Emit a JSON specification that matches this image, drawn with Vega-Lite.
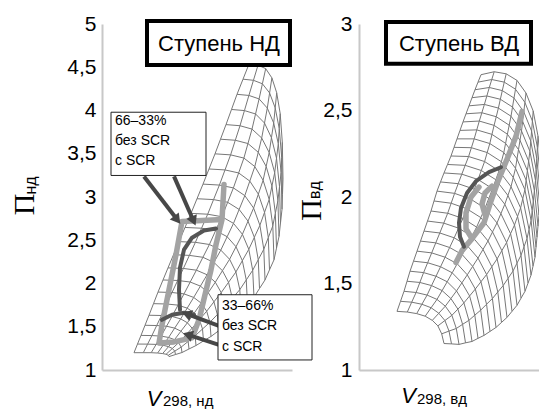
{
"$schema":"https://vega.github.io/schema/vega-lite/v6.json",
"background":"white",
"padding":{"left":10,"top":13,"right":0,"bottom":0},
"bounds":"flush",
"spacing":67,
"config":{"view":{"stroke":null},"font":"Liberation Sans"},
"datasets":{
"meshL":[
{"s":0,"b":0,"x":33,"y":1.2},{"s":0,"b":1,"x":42.3,"y":1.2},{"s":0,"b":2,"x":50.2,"y":1.2},{"s":0,"b":3,"x":56.6,"y":1.196},{"s":0,"b":4,"x":61.6,"y":1.19},{"s":0,"b":5,"x":65.1,"y":1.182},{"s":0,"b":6,"x":67.3,"y":1.17},{"s":0,"b":7,"x":68,"y":1.155},
{"s":0.5,"b":0,"x":36.5,"y":1.3},{"s":0.5,"b":1,"x":46.6,"y":1.299},{"s":0.5,"b":2,"x":55.15,"y":1.296},{"s":0.5,"b":3,"x":62.1,"y":1.286},{"s":0.5,"b":4,"x":67.55,"y":1.27},{"s":0.5,"b":5,"x":71.35,"y":1.249},{"s":0.5,"b":6,"x":73.75,"y":1.218},{"s":0.5,"b":7,"x":74.5,"y":1.179},
{"s":1,"b":0,"x":40,"y":1.4},{"s":1,"b":1,"x":50.9,"y":1.398},{"s":1,"b":2,"x":60.1,"y":1.392},{"s":1,"b":3,"x":67.6,"y":1.376},{"s":1,"b":4,"x":73.5,"y":1.351},{"s":1,"b":5,"x":77.6,"y":1.315},{"s":1,"b":6,"x":80.2,"y":1.265},{"s":1,"b":7,"x":81,"y":1.202},
{"s":1.5,"b":0,"x":44,"y":1.517},{"s":1.5,"b":1,"x":55.7,"y":1.514},{"s":1.5,"b":2,"x":65.55,"y":1.506},{"s":1.5,"b":3,"x":73.65,"y":1.484},{"s":1.5,"b":4,"x":79.95,"y":1.449},{"s":1.5,"b":5,"x":84.35,"y":1.399},{"s":1.5,"b":6,"x":87.15,"y":1.33},{"s":1.5,"b":7,"x":88,"y":1.243},
{"s":2,"b":0,"x":48,"y":1.633},{"s":2,"b":1,"x":60.5,"y":1.63},{"s":2,"b":2,"x":71,"y":1.619},{"s":2,"b":3,"x":79.7,"y":1.591},{"s":2,"b":4,"x":86.4,"y":1.546},{"s":2,"b":5,"x":91.1,"y":1.483},{"s":2,"b":6,"x":94.1,"y":1.395},{"s":2,"b":7,"x":95,"y":1.283},
{"s":2.5,"b":0,"x":52.5,"y":1.767},{"s":2.5,"b":1,"x":65.75,"y":1.763},{"s":2.5,"b":2,"x":77,"y":1.75},{"s":2.5,"b":3,"x":86.2,"y":1.715},{"s":2.5,"b":4,"x":93.3,"y":1.66},{"s":2.5,"b":5,"x":98.4,"y":1.582},{"s":2.5,"b":6,"x":101.5,"y":1.474},{"s":2.5,"b":7,"x":102.5,"y":1.336},
{"s":3,"b":0,"x":57,"y":1.901},{"s":3,"b":1,"x":71,"y":1.896},{"s":3,"b":2,"x":83,"y":1.88},{"s":3,"b":3,"x":92.7,"y":1.839},{"s":3,"b":4,"x":100.2,"y":1.773},{"s":3,"b":5,"x":105.7,"y":1.68},{"s":3,"b":6,"x":108.9,"y":1.552},{"s":3,"b":7,"x":110,"y":1.388},
{"s":3.5,"b":0,"x":62,"y":2.041},{"s":3.5,"b":1,"x":76.7,"y":2.035},{"s":3.5,"b":2,"x":89.2,"y":2.017},{"s":3.5,"b":3,"x":99.4,"y":1.97},{"s":3.5,"b":4,"x":107.25,"y":1.894},{"s":3.5,"b":5,"x":112.95,"y":1.788},{"s":3.5,"b":6,"x":116.35,"y":1.641},{"s":3.5,"b":7,"x":117.5,"y":1.452},
{"s":4,"b":0,"x":67,"y":2.181},{"s":4,"b":1,"x":82.4,"y":2.174},{"s":4,"b":2,"x":95.4,"y":2.154},{"s":4,"b":3,"x":106.1,"y":2.101},{"s":4,"b":4,"x":114.3,"y":2.015},{"s":4,"b":5,"x":120.2,"y":1.895},{"s":4,"b":6,"x":123.8,"y":1.729},{"s":4,"b":7,"x":125,"y":1.516},
{"s":4.5,"b":0,"x":72.5,"y":2.333},{"s":4.5,"b":1,"x":88.4,"y":2.325},{"s":4.5,"b":2,"x":101.9,"y":2.303},{"s":4.5,"b":3,"x":112.95,"y":2.244},{"s":4.5,"b":4,"x":121.45,"y":2.148},{"s":4.5,"b":5,"x":127.55,"y":2.014},{"s":4.5,"b":6,"x":131.3,"y":1.829},{"s":4.5,"b":7,"x":132.5,"y":1.592},
{"s":5,"b":0,"x":78,"y":2.484},{"s":5,"b":1,"x":94.4,"y":2.476},{"s":5,"b":2,"x":108.4,"y":2.451},{"s":5,"b":3,"x":119.8,"y":2.386},{"s":5,"b":4,"x":128.6,"y":2.28},{"s":5,"b":5,"x":134.9,"y":2.133},{"s":5,"b":6,"x":138.8,"y":1.929},{"s":5,"b":7,"x":140,"y":1.668},
{"s":5.5,"b":0,"x":84,"y":2.648},{"s":5.5,"b":1,"x":100.55,"y":2.639},{"s":5.5,"b":2,"x":114.65,"y":2.612},{"s":5.5,"b":3,"x":126.15,"y":2.541},{"s":5.5,"b":4,"x":135,"y":2.425},{"s":5.5,"b":5,"x":141.35,"y":2.264},{"s":5.5,"b":6,"x":145.25,"y":2.041},{"s":5.5,"b":7,"x":146.5,"y":1.756},
{"s":6,"b":0,"x":90,"y":2.811},{"s":6,"b":1,"x":106.7,"y":2.801},{"s":6,"b":2,"x":120.9,"y":2.772},{"s":6,"b":3,"x":132.5,"y":2.695},{"s":6,"b":4,"x":141.4,"y":2.569},{"s":6,"b":5,"x":147.8,"y":2.395},{"s":6,"b":6,"x":151.7,"y":2.153},{"s":6,"b":7,"x":153,"y":1.843},
{"s":6.5,"b":0,"x":96,"y":2.98},{"s":6.5,"b":1,"x":112.55,"y":2.97},{"s":6.5,"b":2,"x":126.65,"y":2.939},{"s":6.5,"b":3,"x":138.15,"y":2.856},{"s":6.5,"b":4,"x":147,"y":2.721},{"s":6.5,"b":5,"x":153.35,"y":2.534},{"s":6.5,"b":6,"x":157.25,"y":2.275},{"s":6.5,"b":7,"x":158.5,"y":1.942},
{"s":7,"b":0,"x":102,"y":3.149},{"s":7,"b":1,"x":118.4,"y":3.138},{"s":7,"b":2,"x":132.4,"y":3.105},{"s":7,"b":3,"x":143.8,"y":3.016},{"s":7,"b":4,"x":152.6,"y":2.872},{"s":7,"b":5,"x":158.9,"y":2.673},{"s":7,"b":6,"x":162.8,"y":2.396},{"s":7,"b":7,"x":164,"y":2.041},
{"s":7.5,"b":0,"x":108,"y":3.324},{"s":7.5,"b":1,"x":124,"y":3.313},{"s":7.5,"b":2,"x":137.65,"y":3.278},{"s":7.5,"b":3,"x":148.8,"y":3.184},{"s":7.5,"b":4,"x":157.35,"y":3.033},{"s":7.5,"b":5,"x":163.55,"y":2.823},{"s":7.5,"b":6,"x":167.3,"y":2.531},{"s":7.5,"b":7,"x":168.5,"y":2.158},
{"s":8,"b":0,"x":114,"y":3.499},{"s":8,"b":1,"x":129.6,"y":3.487},{"s":8,"b":2,"x":142.9,"y":3.45},{"s":8,"b":3,"x":153.8,"y":3.352},{"s":8,"b":4,"x":162.1,"y":3.193},{"s":8,"b":5,"x":168.2,"y":2.972},{"s":8,"b":6,"x":171.8,"y":2.666},{"s":8,"b":7,"x":173,"y":2.274},
{"s":8.5,"b":0,"x":119.5,"y":3.668},{"s":8.5,"b":1,"x":134.3,"y":3.656},{"s":8.5,"b":2,"x":146.95,"y":3.618},{"s":8.5,"b":3,"x":157.25,"y":3.517},{"s":8.5,"b":4,"x":165.15,"y":3.354},{"s":8.5,"b":5,"x":170.95,"y":3.127},{"s":8.5,"b":6,"x":174.35,"y":2.812},{"s":8.5,"b":7,"x":175.5,"y":2.409},
{"s":9,"b":0,"x":125,"y":3.837},{"s":9,"b":1,"x":139,"y":3.824},{"s":9,"b":2,"x":151,"y":3.785},{"s":9,"b":3,"x":160.7,"y":3.682},{"s":9,"b":4,"x":168.2,"y":3.514},{"s":9,"b":5,"x":173.7,"y":3.281},{"s":9,"b":6,"x":176.9,"y":2.957},{"s":9,"b":7,"x":178,"y":2.543},
{"s":9.5,"b":0,"x":130.5,"y":4.012},{"s":9.5,"b":1,"x":143.45,"y":3.999},{"s":9.5,"b":2,"x":154.55,"y":3.96},{"s":9.5,"b":3,"x":163.5,"y":3.855},{"s":9.5,"b":4,"x":170.45,"y":3.685},{"s":9.5,"b":5,"x":175.5,"y":3.449},{"s":9.5,"b":6,"x":178.5,"y":3.12},{"s":9.5,"b":7,"x":179.5,"y":2.701},
{"s":10,"b":0,"x":136,"y":4.187},{"s":10,"b":1,"x":147.9,"y":4.174},{"s":10,"b":2,"x":158.1,"y":4.134},{"s":10,"b":3,"x":166.3,"y":4.028},{"s":10,"b":4,"x":172.7,"y":3.855},{"s":10,"b":5,"x":177.3,"y":3.616},{"s":10,"b":6,"x":180.1,"y":3.283},{"s":10,"b":7,"x":181,"y":2.858},
{"s":10.5,"b":0,"x":142,"y":4.362},{"s":10.5,"b":1,"x":152.45,"y":4.349},{"s":10.5,"b":2,"x":161.4,"y":4.309},{"s":10.5,"b":3,"x":168.6,"y":4.203},{"s":10.5,"b":4,"x":174.2,"y":4.03},{"s":10.5,"b":5,"x":178.25,"y":3.791},{"s":10.5,"b":6,"x":180.7,"y":3.458},{"s":10.5,"b":7,"x":181.5,"y":3.033},
{"s":11,"b":0,"x":148,"y":4.537},{"s":11,"b":1,"x":157,"y":4.524},{"s":11,"b":2,"x":164.7,"y":4.484},{"s":11,"b":3,"x":170.9,"y":4.377},{"s":11,"b":4,"x":175.7,"y":4.205},{"s":11,"b":5,"x":179.2,"y":3.965},{"s":11,"b":6,"x":181.3,"y":3.633},{"s":11,"b":7,"x":182,"y":3.207}
],
"meshR":[
{"s":0,"b":0,"x":38,"y":1.339},{"s":0,"b":1,"x":48.3,"y":1.335},{"s":0,"b":2,"x":57.7,"y":1.326},{"s":0,"b":3,"x":66.2,"y":1.311},{"s":0,"b":4,"x":73.3,"y":1.287},{"s":0,"b":5,"x":78.9,"y":1.255},{"s":0,"b":6,"x":82.7,"y":1.209},{"s":0,"b":7,"x":85,"y":1.153},
{"s":0.5,"b":0,"x":41.5,"y":1.397},{"s":0.5,"b":1,"x":52.7,"y":1.392},{"s":0.5,"b":2,"x":62.9,"y":1.38},{"s":0.5,"b":3,"x":72.1,"y":1.36},{"s":0.5,"b":4,"x":79.8,"y":1.328},{"s":0.5,"b":5,"x":85.9,"y":1.286},{"s":0.5,"b":6,"x":90,"y":1.225},{"s":0.5,"b":7,"x":92.5,"y":1.151},
{"s":1,"b":0,"x":45,"y":1.455},{"s":1,"b":1,"x":57.1,"y":1.448},{"s":1,"b":2,"x":68.1,"y":1.433},{"s":1,"b":3,"x":78,"y":1.408},{"s":1,"b":4,"x":86.3,"y":1.369},{"s":1,"b":5,"x":92.9,"y":1.316},{"s":1,"b":6,"x":97.3,"y":1.24},{"s":1,"b":7,"x":100,"y":1.148},
{"s":1.5,"b":0,"x":48,"y":1.513},{"s":1.5,"b":1,"x":60.85,"y":1.506},{"s":1.5,"b":2,"x":72.55,"y":1.488},{"s":1.5,"b":3,"x":83.1,"y":1.459},{"s":1.5,"b":4,"x":91.9,"y":1.413},{"s":1.5,"b":5,"x":98.9,"y":1.352},{"s":1.5,"b":6,"x":103.6,"y":1.264},{"s":1.5,"b":7,"x":106.5,"y":1.157},
{"s":2,"b":0,"x":51,"y":1.571},{"s":2,"b":1,"x":64.6,"y":1.563},{"s":2,"b":2,"x":77,"y":1.542},{"s":2,"b":3,"x":88.2,"y":1.51},{"s":2,"b":4,"x":97.5,"y":1.457},{"s":2,"b":5,"x":104.9,"y":1.388},{"s":2,"b":6,"x":109.9,"y":1.287},{"s":2,"b":7,"x":113,"y":1.165},
{"s":2.5,"b":0,"x":54.5,"y":1.629},{"s":2.5,"b":1,"x":68.65,"y":1.62},{"s":2.5,"b":2,"x":81.55,"y":1.597},{"s":2.5,"b":3,"x":93.2,"y":1.562},{"s":2.5,"b":4,"x":102.9,"y":1.504},{"s":2.5,"b":5,"x":110.6,"y":1.428},{"s":2.5,"b":6,"x":115.8,"y":1.317},{"s":2.5,"b":7,"x":119,"y":1.183},
{"s":3,"b":0,"x":58,"y":1.687},{"s":3,"b":1,"x":72.7,"y":1.677},{"s":3,"b":2,"x":86.1,"y":1.652},{"s":3,"b":3,"x":98.2,"y":1.614},{"s":3,"b":4,"x":108.3,"y":1.55},{"s":3,"b":5,"x":116.3,"y":1.468},{"s":3,"b":6,"x":121.7,"y":1.346},{"s":3,"b":7,"x":125,"y":1.2},
{"s":3.5,"b":0,"x":61.5,"y":1.745},{"s":3.5,"b":1,"x":76.75,"y":1.735},{"s":3.5,"b":2,"x":90.65,"y":1.708},{"s":3.5,"b":3,"x":103.2,"y":1.667},{"s":3.5,"b":4,"x":113.65,"y":1.599},{"s":3.5,"b":5,"x":121.95,"y":1.51},{"s":3.5,"b":6,"x":127.55,"y":1.38},{"s":3.5,"b":7,"x":131,"y":1.223},
{"s":4,"b":0,"x":65,"y":1.803},{"s":4,"b":1,"x":80.8,"y":1.792},{"s":4,"b":2,"x":95.2,"y":1.764},{"s":4,"b":3,"x":108.2,"y":1.719},{"s":4,"b":4,"x":119,"y":1.647},{"s":4,"b":5,"x":127.6,"y":1.552},{"s":4,"b":6,"x":133.4,"y":1.413},{"s":4,"b":7,"x":137,"y":1.246},
{"s":4.5,"b":0,"x":68.5,"y":1.861},{"s":4.5,"b":1,"x":84.75,"y":1.849},{"s":4.5,"b":2,"x":99.55,"y":1.82},{"s":4.5,"b":3,"x":112.9,"y":1.773},{"s":4.5,"b":4,"x":124,"y":1.697},{"s":4.5,"b":5,"x":132.85,"y":1.597},{"s":4.5,"b":6,"x":138.8,"y":1.451},{"s":4.5,"b":7,"x":142.5,"y":1.275},
{"s":5,"b":0,"x":72,"y":1.919},{"s":5,"b":1,"x":88.7,"y":1.906},{"s":5,"b":2,"x":103.9,"y":1.876},{"s":5,"b":3,"x":117.6,"y":1.826},{"s":5,"b":4,"x":129,"y":1.746},{"s":5,"b":5,"x":138.1,"y":1.642},{"s":5,"b":6,"x":144.2,"y":1.488},{"s":5,"b":7,"x":148,"y":1.304},
{"s":5.5,"b":0,"x":75,"y":1.977},{"s":5.5,"b":1,"x":92.15,"y":1.964},{"s":5.5,"b":2,"x":107.75,"y":1.932},{"s":5.5,"b":3,"x":121.8,"y":1.881},{"s":5.5,"b":4,"x":133.5,"y":1.798},{"s":5.5,"b":5,"x":142.85,"y":1.69},{"s":5.5,"b":6,"x":149.1,"y":1.53},{"s":5.5,"b":7,"x":153,"y":1.339},
{"s":6,"b":0,"x":78,"y":2.034},{"s":6,"b":1,"x":95.6,"y":2.021},{"s":6,"b":2,"x":111.6,"y":1.988},{"s":6,"b":3,"x":126,"y":1.935},{"s":6,"b":4,"x":138,"y":1.85},{"s":6,"b":5,"x":147.6,"y":1.737},{"s":6,"b":6,"x":154,"y":1.572},{"s":6,"b":7,"x":158,"y":1.374},
{"s":6.5,"b":0,"x":81.5,"y":2.087},{"s":6.5,"b":1,"x":99.2,"y":2.077},{"s":6.5,"b":2,"x":115.3,"y":2.045},{"s":6.5,"b":3,"x":129.8,"y":1.992},{"s":6.5,"b":4,"x":141.9,"y":1.904},{"s":6.5,"b":5,"x":151.55,"y":1.788},{"s":6.5,"b":6,"x":158,"y":1.618},{"s":6.5,"b":7,"x":162,"y":1.415},
{"s":7,"b":0,"x":85,"y":2.139},{"s":7,"b":1,"x":102.8,"y":2.132},{"s":7,"b":2,"x":119,"y":2.101},{"s":7,"b":3,"x":133.6,"y":2.048},{"s":7,"b":4,"x":145.8,"y":1.958},{"s":7,"b":5,"x":155.5,"y":1.838},{"s":7,"b":6,"x":162,"y":1.663},{"s":7,"b":7,"x":166,"y":1.455},
{"s":7.5,"b":0,"x":88.5,"y":2.188},{"s":7.5,"b":1,"x":106.2,"y":2.183},{"s":7.5,"b":2,"x":122.3,"y":2.153},{"s":7.5,"b":3,"x":136.8,"y":2.1},{"s":7.5,"b":4,"x":148.9,"y":2.009},{"s":7.5,"b":5,"x":158.55,"y":1.888},{"s":7.5,"b":6,"x":165,"y":1.712},{"s":7.5,"b":7,"x":169,"y":1.502},
{"s":8,"b":0,"x":92,"y":2.237},{"s":8,"b":1,"x":109.6,"y":2.234},{"s":8,"b":2,"x":125.6,"y":2.205},{"s":8,"b":3,"x":140,"y":2.151},{"s":8,"b":4,"x":152,"y":2.06},{"s":8,"b":5,"x":161.6,"y":1.937},{"s":8,"b":6,"x":168,"y":1.76},{"s":8,"b":7,"x":172,"y":1.548},
{"s":8.5,"b":0,"x":95,"y":2.287},{"s":8.5,"b":1,"x":112.4,"y":2.285},{"s":8.5,"b":2,"x":128.2,"y":2.257},{"s":8.5,"b":3,"x":142.4,"y":2.204},{"s":8.5,"b":4,"x":154.25,"y":2.113},{"s":8.5,"b":5,"x":163.75,"y":1.99},{"s":8.5,"b":6,"x":170.05,"y":1.812},{"s":8.5,"b":7,"x":174,"y":1.6},
{"s":9,"b":0,"x":98,"y":2.336},{"s":9,"b":1,"x":115.2,"y":2.336},{"s":9,"b":2,"x":130.8,"y":2.309},{"s":9,"b":3,"x":144.8,"y":2.257},{"s":9,"b":4,"x":156.5,"y":2.166},{"s":9,"b":5,"x":165.9,"y":2.042},{"s":9,"b":6,"x":172.1,"y":1.864},{"s":9,"b":7,"x":176,"y":1.652},
{"s":9.5,"b":0,"x":101,"y":2.385},{"s":9.5,"b":1,"x":117.75,"y":2.388},{"s":9.5,"b":2,"x":132.95,"y":2.362},{"s":9.5,"b":3,"x":146.6,"y":2.31},{"s":9.5,"b":4,"x":158,"y":2.22},{"s":9.5,"b":5,"x":167.15,"y":2.097},{"s":9.5,"b":6,"x":173.2,"y":1.921},{"s":9.5,"b":7,"x":177,"y":1.71},
{"s":10,"b":0,"x":104,"y":2.434},{"s":10,"b":1,"x":120.3,"y":2.439},{"s":10,"b":2,"x":135.1,"y":2.414},{"s":10,"b":3,"x":148.4,"y":2.363},{"s":10,"b":4,"x":159.5,"y":2.274},{"s":10,"b":5,"x":168.4,"y":2.152},{"s":10,"b":6,"x":174.3,"y":1.977},{"s":10,"b":7,"x":178,"y":1.768},
{"s":10.5,"b":0,"x":107,"y":2.481},{"s":10.5,"b":1,"x":122.85,"y":2.487},{"s":10.5,"b":2,"x":137.25,"y":2.464},{"s":10.5,"b":3,"x":150.2,"y":2.415},{"s":10.5,"b":4,"x":161,"y":2.328},{"s":10.5,"b":5,"x":169.65,"y":2.208},{"s":10.5,"b":6,"x":175.4,"y":2.036},{"s":10.5,"b":7,"x":179,"y":1.832},
{"s":11,"b":0,"x":110,"y":2.527},{"s":11,"b":1,"x":125.4,"y":2.535},{"s":11,"b":2,"x":139.4,"y":2.514},{"s":11,"b":3,"x":152,"y":2.467},{"s":11,"b":4,"x":162.5,"y":2.382},{"s":11,"b":5,"x":170.9,"y":2.264},{"s":11,"b":6,"x":176.5,"y":2.095},{"s":11,"b":7,"x":180,"y":1.895},
{"s":11.5,"b":0,"x":113,"y":2.574},{"s":11.5,"b":1,"x":127.85,"y":2.584},{"s":11.5,"b":2,"x":141.35,"y":2.565},{"s":11.5,"b":3,"x":153.5,"y":2.52},{"s":11.5,"b":4,"x":163.65,"y":2.437},{"s":11.5,"b":5,"x":171.75,"y":2.323},{"s":11.5,"b":6,"x":177.15,"y":2.159},{"s":11.5,"b":7,"x":180.5,"y":1.965},
{"s":12,"b":0,"x":116,"y":2.62},{"s":12,"b":1,"x":130.3,"y":2.633},{"s":12,"b":2,"x":143.3,"y":2.615},{"s":12,"b":3,"x":155,"y":2.572},{"s":12,"b":4,"x":164.8,"y":2.492},{"s":12,"b":5,"x":172.6,"y":2.381},{"s":12,"b":6,"x":177.8,"y":2.222},{"s":12,"b":7,"x":181,"y":2.034},
{"s":12.5,"b":0,"x":119,"y":2.664},{"s":12.5,"b":1,"x":132.75,"y":2.679},{"s":12.5,"b":2,"x":145.25,"y":2.664},{"s":12.5,"b":3,"x":156.5,"y":2.623},{"s":12.5,"b":4,"x":165.9,"y":2.547},{"s":12.5,"b":5,"x":173.4,"y":2.439},{"s":12.5,"b":6,"x":178.4,"y":2.287},{"s":12.5,"b":7,"x":181.5,"y":2.107},
{"s":13,"b":0,"x":122,"y":2.707},{"s":13,"b":1,"x":135.2,"y":2.724},{"s":13,"b":2,"x":147.2,"y":2.712},{"s":13,"b":3,"x":158,"y":2.674},{"s":13,"b":4,"x":167,"y":2.601},{"s":13,"b":5,"x":174.2,"y":2.497},{"s":13,"b":6,"x":179,"y":2.352},{"s":13,"b":7,"x":182,"y":2.179}
],
"thickL":[
{"g":"light","o":0,"x":123,"y":3.145},{"g":"light","o":1,"x":121,"y":2.739},{"g":"light","o":2,"x":115,"y":2.449},{"g":"light","o":3,"x":110,"y":2.159},{"g":"light","o":4,"x":104,"y":1.87},{"g":"light","o":5,"x":98,"y":1.58},{"g":"light","o":6,"x":91,"y":1.371},{"g":"light","o":7,"x":73,"y":1.325},{"g":"light","o":8,"x":58,"y":1.313},{"g":"light","o":9,"x":61,"y":1.522},{"g":"light","o":10,"x":68,"y":1.928},{"g":"light","o":11,"x":75,"y":2.333},{"g":"light","o":12,"x":81,"y":2.716},{"g":"light","o":13,"x":121,"y":2.739},
{"g":"dark","o":0,"x":115,"y":2.635},{"g":"dark","o":1,"x":103,"y":2.612},{"g":"dark","o":2,"x":91,"y":2.53},{"g":"dark","o":3,"x":83,"y":2.391},{"g":"dark","o":4,"x":79,"y":2.183},{"g":"dark","o":5,"x":78,"y":1.928},{"g":"dark","o":6,"x":79,"y":1.696},
{"g":"dark2","o":0,"x":61,"y":1.58},{"g":"dark2","o":1,"x":71,"y":1.638},{"g":"dark2","o":2,"x":83,"y":1.661},{"g":"dark2","o":3,"x":93,"y":1.638}
],
"thickR":[
{"g":"light","o":0,"x":163,"y":2.494},{"g":"light","o":1,"x":157,"y":2.351},{"g":"light","o":2,"x":148,"y":2.218},{"g":"light","o":3,"x":139,"y":2.092},{"g":"light","o":4,"x":132,"y":1.977},{"g":"light","o":5,"x":125,"y":1.851},{"g":"light","o":6,"x":113,"y":1.759},{"g":"light","o":7,"x":103,"y":1.69},{"g":"light","o":8,"x":97,"y":1.621},
{"g":"light2","o":0,"x":120,"y":2.057},{"g":"light2","o":1,"x":112,"y":2.0},{"g":"light2","o":2,"x":107,"y":1.908},{"g":"light2","o":3,"x":107,"y":1.816},{"g":"light2","o":4,"x":113,"y":1.759},
{"g":"light3","o":0,"x":133,"y":2.063},{"g":"light3","o":1,"x":126,"y":2.023},{"g":"light3","o":2,"x":123,"y":1.96},{"g":"light3","o":3,"x":126,"y":1.897},
{"g":"dark","o":0,"x":142,"y":2.172},{"g":"dark","o":1,"x":130,"y":2.144},{"g":"dark","o":2,"x":117,"y":2.092},{"g":"dark","o":3,"x":108,"y":2.023},{"g":"dark","o":4,"x":102,"y":1.937},{"g":"dark","o":5,"x":100,"y":1.851},{"g":"dark","o":6,"x":101,"y":1.77},{"g":"dark","o":7,"x":105,"y":1.713}
]
},
"hconcat":[
{
"width":190,"height":346,
"encoding":{
"x":{"field":"x","type":"quantitative","scale":{"domain":[1,191],"nice":false,"zero":false},"axis":{"labels":false,"ticks":false,"title":null,"grid":false,"domainColor":"#c8c8c8","domainWidth":2}},
"y":{"field":"y","type":"quantitative","scale":{"domain":[1,5],"nice":false,"zero":false},"axis":{"values":[1,1.5,2,2.5,3,3.5,4,4.5,5],"labelExpr":"replace(''+datum.value,'.',',')","labelFontSize":21,"labelColor":"#000","labelPadding":6,"ticks":false,"grid":false,"title":null,"domainColor":"#c8c8c8","domainWidth":2}}
},
"layer":[
{"data":{"name":"meshL"},"mark":{"type":"line","stroke":"#777777","strokeWidth":1},"encoding":{"detail":{"field":"s","type":"nominal"},"order":{"field":"b","type":"quantitative"}}},
{"data":{"name":"meshL"},"mark":{"type":"line","stroke":"#777777","strokeWidth":1},"encoding":{"detail":{"field":"b","type":"nominal"},"order":{"field":"s","type":"quantitative"}}},
{"data":{"name":"thickL"},"transform":[{"filter":"datum.g=='light'"}],"mark":{"type":"line","stroke":"#a3a3a3","strokeWidth":5.5,"strokeJoin":"round","strokeCap":"round"},"encoding":{"order":{"field":"o","type":"quantitative"}}},
{"data":{"name":"thickL"},"transform":[{"filter":"datum.g!='light'"}],"mark":{"type":"line","stroke":"#555555","strokeWidth":4,"strokeJoin":"round","strokeCap":"round"},"encoding":{"detail":{"field":"g","type":"nominal"},"order":{"field":"o","type":"quantitative"}}},
{"data":{"values":[{"x":43,"y":3.238,"x2":76.3,"y2":2.736},{"x":73,"y":3.238,"x2":92.6,"y2":2.722},{"x":118,"y":1.51,"x2":85.6,"y2":1.648},{"x":118,"y":1.29,"x2":86.7,"y2":1.408}]},"mark":{"type":"rule","stroke":"#474747","strokeWidth":4},"encoding":{"x2":{"field":"x2"},"y2":{"field":"y2"}}},
{"data":{"values":[{"x":76.3,"y":2.736}]},"mark":{"type":"point","shape":"triangle-up","filled":true,"fill":"#474747","opacity":1,"size":130,"angle":142}},
{"data":{"values":[{"x":92.6,"y":2.722}]},"mark":{"type":"point","shape":"triangle-up","filled":true,"fill":"#474747","opacity":1,"size":130,"angle":156}},
{"data":{"values":[{"x":85.6,"y":1.648}]},"mark":{"type":"point","shape":"triangle-up","filled":true,"fill":"#474747","opacity":1,"size":130,"angle":290}},
{"data":{"values":[{"x":86.7,"y":1.408}]},"mark":{"type":"point","shape":"triangle-up","filled":true,"fill":"#474747","opacity":1,"size":130,"angle":288}},
{"data":{"values":[{"x":46,"y":5.035,"x2":189,"y2":4.525}]},"mark":{"type":"rect","fill":"white","stroke":"#000","strokeWidth":4},"encoding":{"x2":{"field":"x2"},"y2":{"field":"y2"}}},
{"data":{"values":[{"x":10,"y":3.98,"x2":105,"y2":3.249},{"x":117,"y":1.87,"x2":211,"y2":1.116}]},"mark":{"type":"rect","fill":"white","stroke":"#222","strokeWidth":1},"encoding":{"x2":{"field":"x2"},"y2":{"field":"y2"}}},
{"data":{"values":[{"x":118,"y":4.768,"t":"Ступень НД"}]},"mark":{"type":"text","fontSize":22,"align":"center","baseline":"middle","color":"#000"},"encoding":{"text":{"field":"t"}}},
{"data":{"values":[{"x":14,"y":3.875,"t":"66–33%"},{"x":14,"y":3.643,"t":"без SCR"},{"x":14,"y":3.412,"t":"с SCR"},{"x":121,"y":1.742,"t":"33–66%"},{"x":121,"y":1.51,"t":"без SCR"},{"x":121,"y":1.267,"t":"с SCR"}]},"mark":{"type":"text","fontSize":14,"align":"left","baseline":"middle","color":"#000"},"encoding":{"text":{"field":"t"}}},
{"data":{"values":[{"x":-76,"y":2.913,"t":"П"}]},"mark":{"type":"text","font":"Liberation Serif","fontSize":30,"angle":270,"align":"center","baseline":"middle","color":"#000"},"encoding":{"text":{"field":"t"}}},
{"data":{"values":[{"x":-70,"y":3.133,"t":"нд"}]},"mark":{"type":"text","fontSize":16,"angle":270,"align":"center","baseline":"middle","color":"#000"},"encoding":{"text":{"field":"t"}}},
{"data":{"values":[{"x":53,"y":0.67,"t":"V"}]},"mark":{"type":"text","fontSize":22,"fontStyle":"italic","align":"center","baseline":"middle","color":"#000"},"encoding":{"text":{"field":"t"}}},
{"data":{"values":[{"x":62,"y":0.647,"t":"298, нд"}]},"mark":{"type":"text","fontSize":15,"align":"left","baseline":"middle","color":"#000"},"encoding":{"text":{"field":"t"}}}
]
},
{
"width":184,"height":346,
"encoding":{
"x":{"field":"x","type":"quantitative","scale":{"domain":[0,184],"nice":false,"zero":false},"axis":{"labels":false,"ticks":false,"title":null,"grid":false,"domainColor":"#c8c8c8","domainWidth":2}},
"y":{"field":"y","type":"quantitative","scale":{"domain":[1,3],"nice":false,"zero":false},"axis":{"values":[1,1.5,2,2.5,3],"labelExpr":"replace(''+datum.value,'.',',')","labelFontSize":21,"labelColor":"#000","labelPadding":7,"ticks":false,"grid":false,"title":null,"domainColor":"#c8c8c8","domainWidth":2}}
},
"layer":[
{"data":{"name":"meshR"},"mark":{"type":"line","stroke":"#777777","strokeWidth":1},"encoding":{"detail":{"field":"s","type":"nominal"},"order":{"field":"b","type":"quantitative"}}},
{"data":{"name":"meshR"},"mark":{"type":"line","stroke":"#777777","strokeWidth":1},"encoding":{"detail":{"field":"b","type":"nominal"},"order":{"field":"s","type":"quantitative"}}},
{"data":{"name":"thickR"},"transform":[{"filter":"datum.g!='dark'"}],"mark":{"type":"line","stroke":"#a3a3a3","strokeWidth":5.5,"strokeJoin":"round","strokeCap":"round"},"encoding":{"detail":{"field":"g","type":"nominal"},"order":{"field":"o","type":"quantitative"}}},
{"data":{"name":"thickR"},"transform":[{"filter":"datum.g=='dark'"}],"mark":{"type":"line","stroke":"#555555","strokeWidth":4,"strokeJoin":"round","strokeCap":"round"},"encoding":{"order":{"field":"o","type":"quantitative"}}},
{"data":{"values":[{"x":27,"y":3.011,"x2":172,"y2":2.77}]},"mark":{"type":"rect","fill":"white","stroke":"#000","strokeWidth":4},"encoding":{"x2":{"field":"x2"},"y2":{"field":"y2"}}},
{"data":{"values":[{"x":100,"y":2.885,"t":"Ступень ВД"}]},"mark":{"type":"text","fontSize":22,"align":"center","baseline":"middle","color":"#000"},"encoding":{"text":{"field":"t"}}},
{"data":{"values":[{"x":-47.5,"y":1.925,"t":"П"}]},"mark":{"type":"text","font":"Liberation Serif","fontSize":30,"angle":270,"align":"center","baseline":"middle","color":"#000"},"encoding":{"text":{"field":"t"}}},
{"data":{"values":[{"x":-44,"y":2.04,"t":"вд"}]},"mark":{"type":"text","fontSize":16,"angle":270,"align":"center","baseline":"middle","color":"#000"},"encoding":{"text":{"field":"t"}}},
{"data":{"values":[{"x":49.5,"y":0.85,"t":"V"}]},"mark":{"type":"text","fontSize":22,"fontStyle":"italic","align":"center","baseline":"middle","color":"#000"},"encoding":{"text":{"field":"t"}}},
{"data":{"values":[{"x":58,"y":0.833,"t":"298, вд"}]},"mark":{"type":"text","fontSize":15,"align":"left","baseline":"middle","color":"#000"},"encoding":{"text":{"field":"t"}}}
]
}
]
}
